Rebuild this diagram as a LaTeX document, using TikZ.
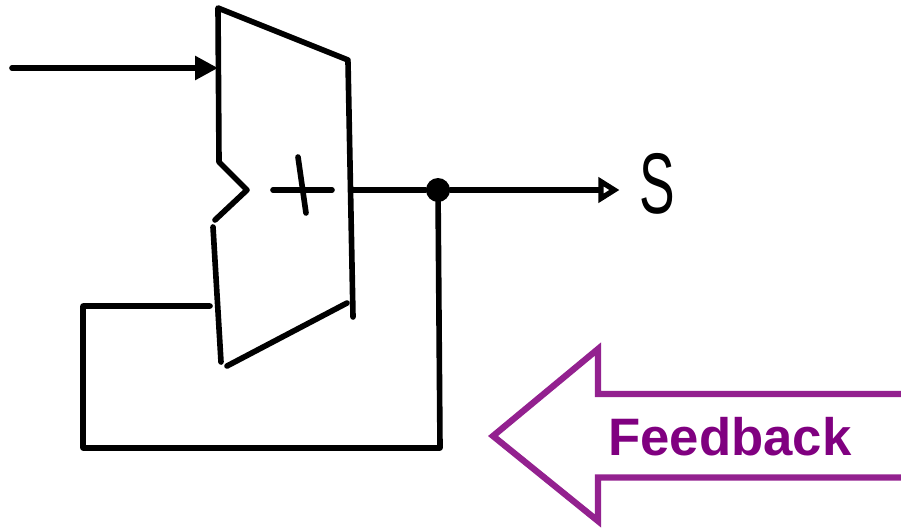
\documentclass[tikz,border=0pt]{standalone}
\usepackage{fontspec}
\setsansfont{Liberation Sans}
\usetikzlibrary{arrows.meta}
\definecolor{fbline}{RGB}{147,33,143}
\definecolor{fbtext}{RGB}{128,0,128}
\begin{document}
\begin{tikzpicture}[x=0.02cm,y=-0.02cm,
  wire/.style={line width=3.2pt,line cap=round,line join=round},
  dot/.style={circle,fill=black,inner sep=0pt,minimum size=0.48cm}]
\useasboundingbox (0,0) rectangle (901,527);
% adder
\draw[wire] (213,227) -- (221,362);
\draw[wire] (215,220) -- (247,190) -- (219,162) -- (218,8) -- (348,60);
\draw[wire] (348,62) -- (353,317);
\draw[wire] (347,303) -- (227,366);
\draw[wire] (273,190) -- (332,190);
\draw[wire] (298,157) -- (306,213);
% ports
\coordinate (in) at (12,68);
\coordinate (a) at (218,68);
\coordinate (b) at (210,306);
\coordinate (out) at (353,190);
\node[dot] (j) at (438,190) {};
\node[font=\sffamily\fontsize{49}{50}\selectfont,inner sep=0pt] (s) at (657,184) {\scalebox{0.62}[1]{S}};
\draw[wire,-{Triangle[length=13pt,width=13pt]}] (in) -- (a);
\draw[wire] (out) -- (j);
\draw[wire,-{Triangle[open,length=12pt,width=14pt]},shorten >=11pt] (j) -- (j -| s.west);
\draw[wire] (j.center) -- (440,448) -- (83,448) -- (83,306) -- (b);
% big arrow
\draw[fbline,line width=3.6pt,line join=miter] (905,394) -- (598,394) -- (598,349) -- (493,436) -- (598,521) -- (598,477.5) -- (905,477.5);
\node[font=\sffamily\bfseries\fontsize{30}{36}\selectfont,text=fbtext] (fb) at (730,437) {Feedback};
\end{tikzpicture}
\end{document}
